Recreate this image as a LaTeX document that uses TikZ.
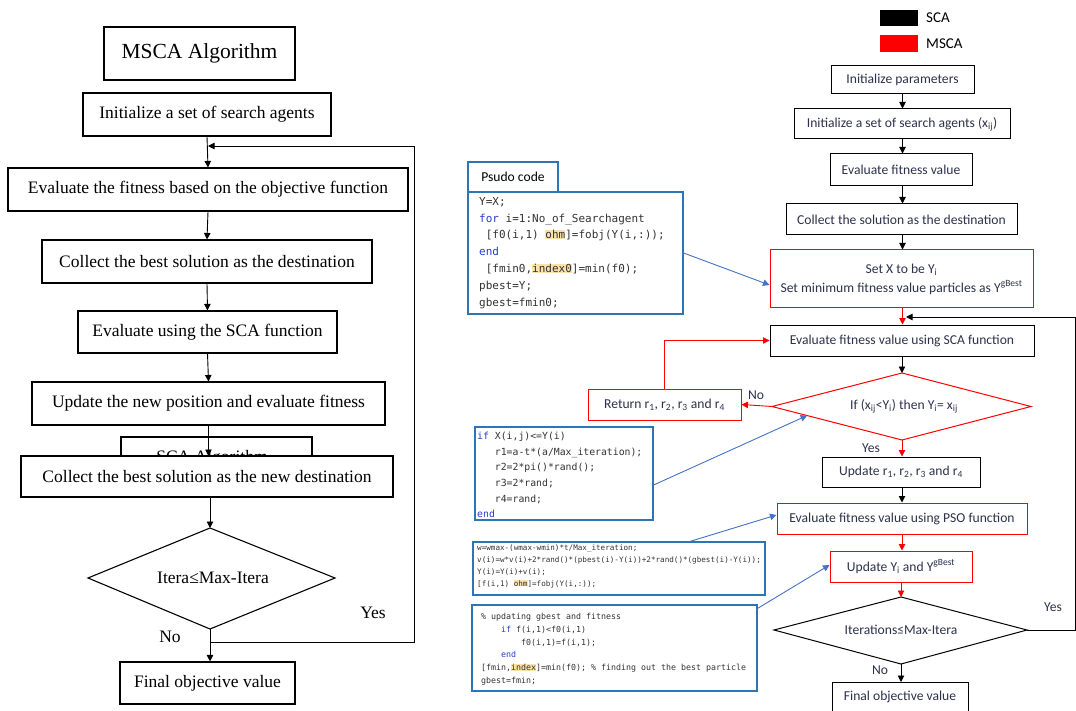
\documentclass[tikz,border=0pt]{standalone}
\usepackage{fontspec}
\setmainfont{Liberation Serif}
\newfontfamily\calfont{Carlito}
\newfontfamily\codefont{DejaVu Sans Mono}
\usetikzlibrary{arrows.meta,calc}
\definecolor{codeblue}{RGB}{46,117,182}
\definecolor{linkblue}{RGB}{68,114,196}
\definecolor{rtext}{RGB}{45,50,75}
\definecolor{kw}{RGB}{40,60,200}
\definecolor{ctext}{RGB}{50,50,50}
\definecolor{hlc}{RGB}{252,226,170}
\newcommand{\hlt}[1]{{\setlength{\fboxsep}{0pt}\colorbox{hlc}{#1}}}
\tikzset{
  lbox/.style={draw=black, line width=1.1pt, fill=white, inner sep=0pt, font=\fontsize{17.5}{20}\selectfont},
  rbox/.style={draw=black, line width=1pt, fill=white, inner sep=0pt, text=rtext, font=\calfont\fontsize{13.6}{15}\selectfont, align=center},
  redbox/.style={rbox, draw=red},
  codebox/.style={draw=codeblue, line width=1.2pt, inner sep=0pt},
  codetext/.style={anchor=north west, inner sep=0pt, align=left, text=ctext},
  arr/.style={-{Triangle[length=6.5pt,width=6.5pt]}, line width=0.9pt},
  rarr/.style={arr, draw=red, -{Triangle[length=6.5pt,width=6.5pt,fill=red]}},
  barr/.style={-{Triangle[length=6.5pt,width=6.5pt]}, line width=0.9pt, draw=linkblue},
  lbl/.style={inner sep=0pt, font=\fontsize{17.5}{20}\selectfont},
  rlbl/.style={inner sep=0pt, text=rtext, font=\calfont\fontsize{13.6}{15}\selectfont},
}
\begin{document}
\begin{tikzpicture}[x=1pt,y=-1pt]
\useasboundingbox (0,0) rectangle (1076,711);
% ---------------- Left flowchart ----------------
\node[lbox, minimum width=191pt, minimum height=53pt, font=\fontsize{21.5}{24}\selectfont] (ltitle) at (199.5,53.5) {MSCA Algorithm};
\node[lbox, minimum width=248pt, minimum height=43pt] (linit) at (207,114.5) {Initialize a set of search agents};
\node[lbox, minimum width=400pt, minimum height=43pt] (leval) at (208,189.5) {Evaluate the fitness based on the objective function};
\node[lbox, minimum width=330pt, minimum height=43pt] (lcoll) at (207,261.5) {Collect the best solution as the destination};
\node[lbox, minimum width=259pt, minimum height=42pt] (lsca) at (207.5,332) {Evaluate using the SCA function};
\node[lbox, minimum width=353pt, minimum height=43pt] (lupd) at (208.5,403.5) {Update the new position and evaluate fitness};
\node[lbox, minimum width=191pt, minimum height=43pt] (lhid) at (216.5,458.5) {};
\node[lbl] (lhidt) at (212,458) {SCA Algorithm};
\draw[arr] (lupd.south) -- (lupd.south |- 0,456);
\node[lbox, minimum width=372pt, minimum height=41pt] (lcolnew) at (207,476.5) {Collect the best solution as the new destination};
\coordinate (ldt) at (210,528);
\coordinate (ldr) at (335,578);
\coordinate (ldb) at (210,629);
\coordinate (ldl) at (88,578);
\draw[line width=1.1pt] (ldt) -- (ldr) -- (ldb) -- (ldl) -- cycle;
\node[lbl] (ldtext) at (213,578) {Itera≤Max-Itera};
\node[lbox, minimum width=175pt, minimum height=42pt] (lfinal) at (207.5,683) {Final objective value};
\draw[arr] (linit.south) -- (leval.north);
\draw[arr] (leval.south) -- (lcoll.north);
\draw[arr] (lcoll.south) -- (lsca.north);
\draw[arr] (lsca.south) -- (lupd.north);
\draw[arr] (lcolnew.south -| ldt) -- (ldt);
\draw[arr] (ldb) -- (lfinal.north -| ldb);
\coordinate (lj) at (210,642);
\coordinate (lc) at (414,146);
\coordinate (lin) at (208,146);
\draw[arr] (lj) -| (lc) -- (lin);
\node[lbl] (lyes) at (373,613) {Yes};
\node[lbl] (lno) at (170,637) {No};
% ---------------- Legend ----------------
\node[fill=black, minimum width=38pt, minimum height=16pt, inner sep=0pt] (legk) at (899,18) {};
\node[fill=red, minimum width=38pt, minimum height=17pt, inner sep=0pt] (legr) at (899,43.5) {};
\node[rlbl, anchor=west, text=black, font=\calfont\fontsize{15}{17}\selectfont] (legkt) at (926,18) {SCA};
\node[rlbl, anchor=west, text=black, font=\calfont\fontsize{15}{17}\selectfont] (legrt) at (926,44) {MSCA};
% ---------------- Right flowchart ----------------
\node[rbox, minimum width=143pt, minimum height=28pt] (rinit) at (902.5,80) {Initialize parameters};
\node[rbox, minimum width=216pt, minimum height=30pt] (rinits) at (902,124) {Initialize a set of search agents (x\textsubscript{ij})};
\node[rbox, minimum width=142pt, minimum height=32pt] (reval) at (901,170) {Evaluate fitness value};
\node[rbox, minimum width=231pt, minimum height=31pt] (rcoll) at (901.5,219.5) {Collect the solution as the destination};
\node[redbox, minimum width=263pt, minimum height=58pt, font=\calfont\fontsize{13.6}{19}\selectfont] (rsetx) at (901.5,279) {Set X to be Y\textsubscript{i}\\Set minimum  fitness value particles as Y\textsuperscript{gBest}};
\node[rbox, minimum width=264pt, minimum height=31pt] (rsca) at (902,340.5) {Evaluate fitness value using SCA function};
\coordinate (rdt) at (902,373);
\coordinate (rdr) at (1031,406.5);
\coordinate (rdb) at (902,440);
\coordinate (rdl) at (772,406.5);
\draw[red, line width=1pt] (rdt) -- (rdr) -- (rdb) -- (rdl) -- cycle;
\node[rlbl] (rdtext) at (904,406.5) {If (x\textsubscript{ij}<Y\textsubscript{i}) then Y\textsubscript{i}= x\textsubscript{ij}};
\node[redbox, minimum width=153pt, minimum height=31pt] (rret) at (664.5,404.5) {Return r\textsubscript{1}, r\textsubscript{2}, r\textsubscript{3} and r\textsubscript{4}};
\node[rbox, minimum width=158pt, minimum height=30pt] (rupd) at (901,472) {Update r\textsubscript{1}, r\textsubscript{2}, r\textsubscript{3} and r\textsubscript{4}};
\node[redbox, minimum width=250pt, minimum height=31pt] (rpso) at (902,518.5) {Evaluate fitness value using PSO function};
\node[redbox, minimum width=142pt, minimum height=31pt] (ryupd) at (901,566.5) {Update Y\textsubscript{i} and Y\textsuperscript{gBest}};
\coordinate (rd2t) at (901,597);
\coordinate (rd2r) at (1027,630);
\coordinate (rd2b) at (901,664);
\coordinate (rd2l) at (774,630);
\draw[line width=1pt] (rd2t) -- (rd2r) -- (rd2b) -- (rd2l) -- cycle;
\node[rlbl] (rd2text) at (901,630) {Iterations≤Max-Itera};
\node[rbox, minimum width=136pt, minimum height=40pt, anchor=north] (rfinal) at (900,682) {};
\node[rlbl] (rfinalt) at (900,697) {Final objective value};
% right arrows
\draw[arr] (rinit.south) -- (rinits.north -| rinit.south);
\draw[arr] (rinits.south -| rinit.south) -- (reval.north -| rinit.south);
\draw[arr] (reval.south -| rinit.south) -- (rcoll.north -| rinit.south);
\draw[arr] (rcoll.south -| rinit.south) -- (rsetx.north -| rinit.south);
\draw[rarr] (rsetx.south -| rinit.south) -- (rsca.north -| rinit.south);
\draw[arr] (rsca.south -| rdt) -- (rdt);
\draw[rarr] (rdb) -- (rupd.north -| rdb);
\draw[rarr] (rdl) -- (rret.east);
\draw[rarr] (rret.north) |- (rsca.west);
\draw[arr] (rupd.south -| rdb) -- (rpso.north -| rdb);
\draw[rarr] (rpso.south -| rdb) -- (ryupd.north -| rdb);
\draw[rarr] (ryupd.south -| rd2t) -- (rd2t);
\draw[arr] (rd2b) -- (rfinal.north -| rd2b);
\coordinate (rc) at (1075,317);
\coordinate (rin) at (906,317);
\draw[arr] (rd2r) -| (rc) -- (rin);
\node[rlbl] (rno1) at (756,395) {No};
\node[rlbl] (ryes1) at (871,448) {Yes};
\node[rlbl] (rno2) at (880,670) {No};
\node[rlbl] (ryes2) at (1053,607) {Yes};
% ---------------- Code boxes ----------------
\node[codebox, minimum width=90pt, minimum height=30pt, text=black, font=\calfont\fontsize{13.6}{15}\selectfont] (ctab) at (513,177) {Psudo code};
\node[codebox, minimum width=215pt, minimum height=122pt] (code1) at (575.5,253) {};
\node[codetext, font=\codefont\fontsize{11}{16.8}\selectfont] (code1t) at (479,197) {Y=X;\\
{\color{kw}for} i=1:No\_of\_Searchagent\\
\hphantom{x}[f0(i,1) \hlt{ohm}]=fobj(Y(i,:));\\
{\color{kw}end}\\
\hphantom{x}[fmin0,\hlt{index0}]=min(f0);\\
pbest=Y;\\
gbest=fmin0;};
\node[codebox, minimum width=178pt, minimum height=93pt] (code2) at (564,473.5) {};
\node[codetext, font=\codefont\fontsize{9.8}{15.6}\selectfont] (code2t) at (477,432) {{\color{kw}if} X(i,j)<=Y(i)\\
\hphantom{xxx}r1=a-t*(a/Max\_iteration);\\
\hphantom{xxx}r2=2*pi()*rand();\\
\hphantom{xxx}r3=2*rand;\\
\hphantom{xxx}r4=rand;\\
{\color{kw}end}};
\node[codebox, minimum width=292pt, minimum height=53pt] (code3) at (619,568.5) {};
\node[codetext, font=\codefont\fontsize{7.6}{11.7}\selectfont] (code3t) at (477,545) {w=wmax-(wmax-wmin)*t/Max\_iteration;\\
v(i)=w*v(i)+2*rand()*(pbest(i)-Y(i))+2*rand()*(gbest(i)-Y(i));\\
Y(i)=Y(i)+v(i);\\
{}[f(i,1) \hlt{ohm}]=fobj(Y(i,:));};
\node[codebox, minimum width=285pt, minimum height=86pt] (code4) at (614.5,648) {};
\node[codetext, font=\codefont\fontsize{8.3}{12.8}\selectfont] (code4t) at (481,613) {\% updating gbest and fitness\\
\hphantom{xxxx}{\color{kw}if} f(i,1)<f0(i,1)\\
\hphantom{xxxxxxxx}f0(i,1)=f(i,1);\\
\hphantom{xxxx}{\color{kw}end}\\
{}[fmin,\hlt{index}]=min(f0); \% finding out the best particle\\
gbest=fmin;};
% blue connectors
\draw[barr] (code1.east) -- ([yshift=-6pt]rsetx.west);
\draw[barr] ([yshift=-11.5pt]code2.east) -- ($(rdl)!0.27!(rdb)$);
\draw[barr] ([xshift=71pt]code3.north) -- ([yshift=3.5pt]rpso.west);
\draw[barr] ([yshift=-4pt]code4.north east) -- ([yshift=1.5pt]ryupd.west);
\end{tikzpicture}
\end{document}
